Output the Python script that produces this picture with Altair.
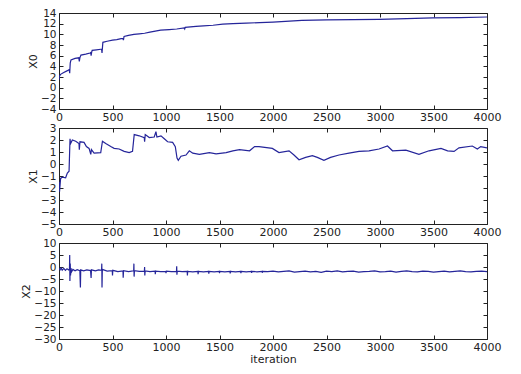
import altair as alt
import pandas as pd

# ---- data ----
x0_iter = [0, 5, 15, 40, 70, 90, 95, 100, 105, 112, 150, 185, 190, 195, 205, 250, 290, 297, 300, 305, 310,
           350, 390, 398, 402, 410, 450, 500, 540, 580, 598, 602, 608, 650, 700, 750, 800, 850, 900, 950,
           1030, 1100, 1170, 1175, 1180, 1280, 1350, 1440, 1530, 1625, 1750, 1875, 2000, 2270, 2500,
           2750, 2990, 3250, 3490, 3750, 4000]
x0_val = [1.5, 2.2, 2.5, 2.8, 3.1, 3.3, 3.4, 2.7, 4.6, 5.2, 5.5, 5.6, 4.9, 5.6, 6.1, 6.3, 6.5, 6.6, 6.0, 6.6, 7.0,
          7.1, 7.2, 7.2, 6.5, 8.5, 8.7, 8.9, 9.0, 9.2, 9.2, 8.9, 9.6, 9.8, 10.0, 10.1, 10.2, 10.4, 10.6, 10.8,
          10.9, 11.0, 11.2, 11.0, 11.3, 11.5, 11.6, 11.7, 11.9, 12.0, 12.1, 12.2, 12.3, 12.6, 12.7,
          12.75, 12.8, 12.95, 13.1, 13.15, 13.25]

x1_iter = [0, 5, 15, 30, 62, 78, 94, 103, 108, 125, 156, 187, 190, 196, 234, 256, 281, 297, 303, 328, 390,
           406, 437, 484, 515, 562, 609, 656, 687, 703, 750, 797, 800, 806, 844, 890, 906, 915, 953, 984,
           1015, 1062, 1087, 1103, 1115, 1140, 1187, 1218, 1250, 1312, 1406, 1468, 1562, 1625, 1687, 1781,
           1828, 1869, 1994, 2056, 2150, 2196, 2243, 2305, 2368, 2414, 2476, 2538, 2617, 2710, 2804, 2897,
           2991, 3070, 3117, 3242, 3364, 3458, 3570, 3632, 3692, 3738, 3863, 3910, 3941, 4000]
x1_val = [-1.5, -2.3, -1.2, -1.1, -1.15, -0.75, -0.6, 2.1, 1.7, 2.0, 1.9, 1.7, 1.2, 1.85, 1.8, 1.45, 1.3, 0.8,
          1.2, 0.9, 0.95, 1.9, 1.7, 1.45, 1.3, 1.25, 1.05, 0.95, 1.05, 2.45, 2.35, 2.2, 1.85, 2.45, 2.2, 2.25,
          2.7, 2.25, 2.35, 2.1, 1.85, 1.8, 1.45, 0.5, 0.3, 0.65, 0.75, 1.1, 0.9, 0.8, 0.95, 0.85, 0.95, 1.1,
          1.2, 1.1, 1.45, 1.45, 1.3, 0.95, 1.1, 0.75, 0.35, 0.55, 0.7, 0.55, 0.3, 0.55, 0.75, 0.9, 1.05, 1.1,
          1.25, 1.5, 1.1, 1.15, 0.8, 1.1, 1.3, 1.1, 1.05, 1.35, 1.5, 1.25, 1.45, 1.35]

x2_iter = [0, 10, 20, 30, 45, 60, 75, 90, 98, 100, 102, 105, 108, 112, 118, 130, 150, 170, 195, 200, 203,
           230, 260, 295, 300, 303, 340, 370, 398, 400, 402, 405, 450, 498, 500, 503, 550, 598, 600, 603,
           650, 698, 700, 702, 705, 750, 798, 800, 802, 805, 850, 898, 900, 903, 950, 998, 1000, 1003,
           1050, 1098, 1100, 1102, 1105, 1150, 1198, 1200, 1203, 1250, 1298, 1300, 1303, 1350, 1398, 1400,
           1403, 1450, 1498, 1500, 1503, 1550, 1598, 1600, 1603, 1650, 1698, 1700, 1703, 1750, 1798, 1800,
           1803, 1850, 1898, 1900, 1903, 1950,
           2000, 2050, 2100, 2150, 2200, 2250, 2300, 2350, 2400, 2450, 2500, 2550, 2600, 2650, 2700, 2750,
           2800, 2850, 2900, 2950, 3000, 3050, 3100, 3150, 3200, 3250, 3300, 3350, 3400, 3450, 3500, 3550,
           3600, 3650, 3700, 3750, 3800, 3850, 3900, 3950, 4000]
x2_val = [-0.5, -1.2, -0.4, -1.3, -0.6, -1.4, -0.7, -1.2, -0.8, 5.0, -5.8, 1.5, -3.5, -0.5, -2.0, -1.0, -1.6,
          -1.1, -1.5, -8.5, -1.2, -1.6, -1.2, -1.5, -4.6, -1.2, -1.6, -1.2, -1.4, 1.4, -8.5, -1.0, -1.7, -1.5,
          -3.5, -1.4, -1.9, -1.6, -4.5, -1.5, -1.9, -1.6, 1.4, -4.0, -1.5, -1.8, -1.7, 0.0, -3.5, -1.6, -1.9,
          -1.7, -3.0, -1.7, -1.9, -1.8, -2.6, -1.7, -1.9, -1.8, 0.3, -3.2, -1.7, -1.9, -1.8, -3.5, -1.8, -2.0,
          -1.8, -3.0, -1.8, -2.0, -1.8, -2.8, -1.8, -2.0, -1.8, -2.6, -1.8, -2.0, -1.8, -2.7, -1.8, -2.0,
          -1.8, -2.6, -1.8, -2.0, -1.8, -2.5, -1.8, -2.0, -1.8, -2.4, -1.8, -1.9,
          -1.7, -2.0, -1.8, -1.6, -2.1, -1.9, -1.7, -2.0, -1.8, -2.2, -1.7, -1.9, -1.6, -2.0, -1.8, -1.7,
          -2.1, -1.9, -1.8, -1.6, -2.0, -1.9, -1.7, -2.1, -1.8, -1.6, -1.9, -2.0, -1.7, -1.8, -2.1, -1.9,
          -1.7, -2.0, -1.8, -1.6, -1.9, -2.0, -1.8, -1.7, -1.9]

x_ticks = [0, 500, 1000, 1500, 2000, 2500, 3000, 3500, 4000]
y0_ticks = [-4, -2, 0, 2, 4, 6, 8, 10, 12, 14]
y1_ticks = [-5, -4, -3, -2, -1, 0, 1, 2, 3]
y2_ticks = [-30, -25, -20, -15, -10, -5, 0, 5, 10]

LINE = "#25259a"
INK = "#222222"
FONT = "DejaVu Sans"
W, H = 428, 96
TL = 4  # inward tick length


def panel(iters, vals, name, domain, yticks, title_x, x_title):
    df = pd.DataFrame({"iteration": iters, "v": vals})
    xs = alt.Scale(domain=[0, 4000], nice=False, zero=False)
    ys = alt.Scale(domain=domain, nice=False, zero=False)
    xaxis_kw = dict(values=x_ticks, orient="bottom", offset=-TL, tickSize=TL, domain=False, grid=False,
                    labelPadding=2, tickColor=INK, labelColor=INK, labelFont=FONT, labelFontSize=11,
                    titleFont=FONT, titleFontSize=11, titleFontWeight="normal", titleColor=INK,
                    titlePadding=1, format="d", labelOverlap=False, labelFlush=False)
    if x_title:
        xa = alt.Axis(title="iteration", **xaxis_kw)
    else:
        xa = alt.Axis(title=None, **xaxis_kw)
    ya = alt.Axis(values=yticks, orient="left", offset=-TL, tickSize=TL, domain=False, grid=False,
                  labelPadding=3, tickColor=INK, labelColor=INK, labelFont=FONT, labelFontSize=10.5,
                  title=name, titleFont=FONT, titleFontSize=11, titleFontWeight="normal",
                  titleColor=INK, titleX=title_x, format="d", labelOverlap=False, labelFlush=False)
    a = alt.Chart(df).mark_line(color=LINE, strokeWidth=1.2, clip=True).encode(
        x=alt.X("iteration:Q", scale=xs, axis=xa),
        y=alt.Y("v:Q", scale=ys, axis=ya),
    )
    b = alt.Chart(df).mark_line(color=LINE, strokeOpacity=0, clip=True).encode(
        x=alt.X("iteration:Q", scale=xs,
                axis=alt.Axis(values=x_ticks, orient="top", offset=-TL, tickSize=TL, domain=False,
                              grid=False, labels=False, title=None, tickColor=INK)),
        y=alt.Y("v:Q", scale=ys,
                axis=alt.Axis(values=yticks, orient="right", offset=-TL, tickSize=TL, domain=False,
                              grid=False, labels=False, title=None, tickColor=INK)),
    )
    return alt.layer(a, b).resolve_axis(x="independent", y="independent").properties(width=W, height=H)


p0 = panel(x0_iter, x0_val, "X0", [-4, 14], y0_ticks, -25, False)
p1 = panel(x1_iter, x1_val, "X1", [-5, 3], y1_ticks, -25, False)
p2 = panel(x2_iter, x2_val, "X2", [-30, 10], y2_ticks, -32, True)

chart = alt.vconcat(p0, p1, p2, spacing=19, bounds="flush").properties(
    padding={"left": 11, "top": -1, "right": 5, "bottom": 5},
    background="white",
).configure_view(stroke=INK, strokeWidth=1)

chart.save("out.html", embed_options={"renderer": "svg", "actions": False})
